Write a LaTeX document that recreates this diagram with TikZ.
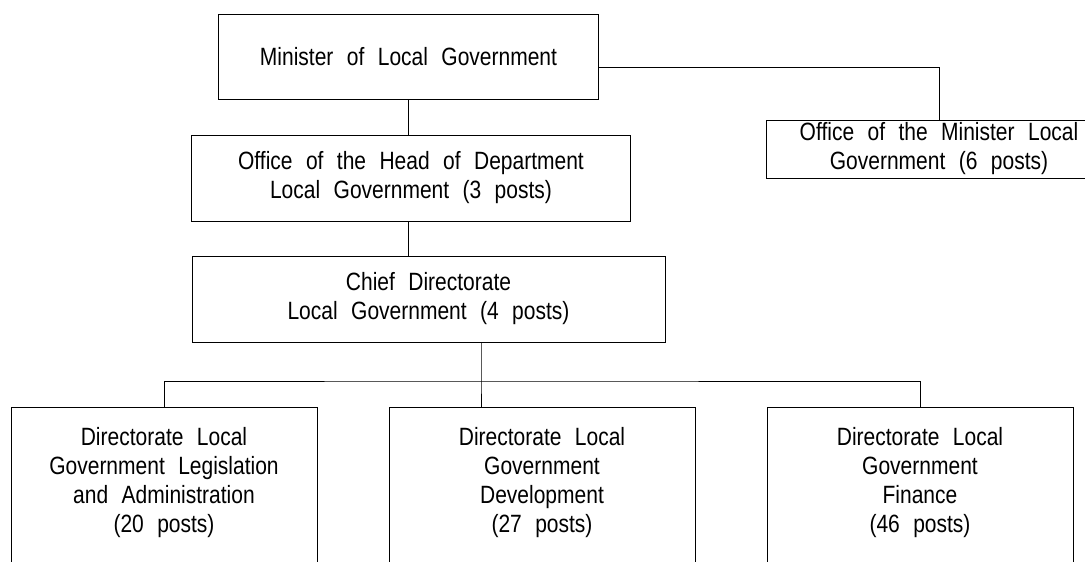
\documentclass[tikz,border=0pt]{standalone}
\usepackage{fontspec}
\setmainfont{Liberation Sans}[FakeStretch=0.84,WordSpace=2.3]
\usepackage{tikz}
\usetikzlibrary{positioning,calc}
\tikzset{
         unit/.style=
          {
           draw=black,
           line width=0.8pt,
           align=center,
           inner sep=2pt,
           font=\fontsize{25}{29}\selectfont
          },
         directorate/.style=
          {
           unit,
           anchor=north,
           minimum width=306pt,
           inner ysep=19.5pt,
           text depth=30pt
          },
         wire/.style={line width=0.8pt}
        }

\begin{document}
\begin{tikzpicture}[x=1pt,y=-1pt]
      \useasboundingbox (0,0) rectangle (1085,562);
      \clip (0,0) rectangle (1085,562);
      \node[unit,minimum width=380pt,minimum height=85pt] (min) at (408.5,56.5) {Minister of Local Government}; % minister
      \node[unit,minimum width=346pt,minimum height=58pt] (offmin) at (939,149) {Office of the Minister Local\\Government (6 posts)}; % office of minister
      \node[unit,minimum width=439pt,minimum height=86pt] (hod) at (411,178) {Office of the Head of Department\\Local Government (3 posts)}; % head of department
      \node[unit,minimum width=473pt,minimum height=86pt] (chief) at (428.5,299) {Chief Directorate\\Local Government (4 posts)}; % chief directorate
      \node[directorate] (legis) at (164,407) {Directorate Local\\Government Legislation\\and Administration\\(20 posts)};
      \node[directorate] (devel) at (542,407) {Directorate Local\\Government\\Development\\(27 posts)};
      \node[directorate] (fin) at (920,407) {Directorate Local\\Government\\Finance\\(46 posts)};
      \coordinate (bus) at (481,381); % branching point
      \draw[wire] ([yshift=-10.5pt]min.east) -| (offmin.north); % to minister's office
      \draw[wire] (min.south) -- (min.south |- hod.north); % minister to head
      \draw[wire] (min.south |- hod.south) -- (min.south |- chief.north); % head to chief
      \draw[wire] (bus |- chief.south) -- (bus) -- (bus |- devel.north); % chief to development
      \draw[wire] (legis.north) |- (bus) -| (fin.north); % branches
\end{tikzpicture}
\end{document}
